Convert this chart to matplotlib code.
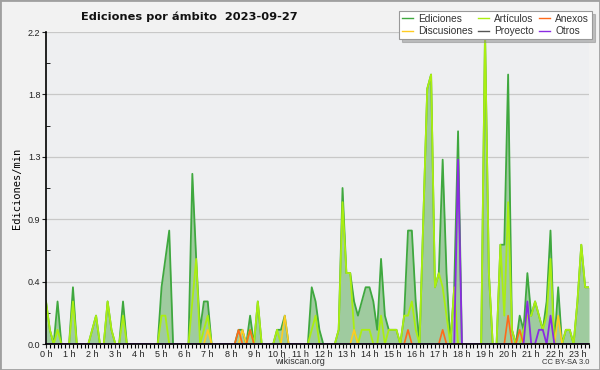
import numpy as np
import matplotlib
matplotlib.use("Agg")
import matplotlib.pyplot as plt
from matplotlib.lines import Line2D
from matplotlib.patches import Rectangle

# edits per minute, 10-minute bins starting at 0 h
ediciones = [
    0.3, 0.1, 0, 0.3, 0, 0, 0, 0.4, 0, 0, 0, 0,
    0.1, 0.2, 0, 0, 0.3, 0.1, 0, 0, 0.3, 0, 0, 0,
    0, 0, 0, 0, 0, 0, 0.4, 0.6, 0.8, 0, 0, 0,
    0, 0, 1.2, 0.6, 0.1, 0.3, 0.3, 0, 0, 0, 0, 0,
    0, 0, 0.1, 0.1, 0, 0.2, 0, 0.3, 0, 0, 0, 0,
    0.1, 0.1, 0.2, 0, 0, 0, 0, 0, 0, 0.4, 0.3, 0.1,
    0, 0, 0, 0, 0.1, 1.1, 0.5, 0.5, 0.3, 0.2, 0.3, 0.4,
    0.4, 0.3, 0.1, 0.6, 0.2, 0.1, 0.1, 0.1, 0, 0.2, 0.8, 0.8,
    0.3, 0, 0.9, 1.8, 1.9, 0.4, 0.5, 1.3, 0.5, 0, 0.4, 1.5,
    0, 0, 0, 0, 0, 0, 2.2, 0.5, 0, 0, 0.7, 0.7,
    1.9, 0.1, 0, 0.2, 0.1, 0.5, 0.2, 0.3, 0.2, 0.1, 0.3, 0.8,
    0, 0.4, 0, 0.1, 0.1, 0, 0.3, 0.7, 0.4, 0.4,
]
articulos = [
    0.3, 0.1, 0, 0.1, 0, 0, 0, 0.3, 0, 0, 0, 0,
    0.1, 0.2, 0, 0, 0.3, 0.1, 0, 0, 0.2, 0, 0, 0,
    0, 0, 0, 0, 0, 0, 0.2, 0.2, 0, 0, 0, 0,
    0, 0, 0.3, 0.6, 0, 0.1, 0.2, 0, 0, 0, 0, 0,
    0, 0, 0, 0, 0, 0.1, 0, 0.3, 0, 0, 0, 0,
    0.1, 0, 0, 0, 0, 0, 0, 0, 0, 0.1, 0.2, 0,
    0, 0, 0, 0, 0.1, 1.0, 0.5, 0.5, 0.1, 0, 0.1, 0.1,
    0.1, 0, 0, 0.2, 0, 0.1, 0.1, 0.1, 0, 0.2, 0.2, 0.3,
    0.1, 0, 0.9, 1.8, 1.9, 0.4, 0.5, 0.4, 0.2, 0, 0.4, 0,
    0, 0, 0, 0, 0, 0, 2.2, 0.5, 0, 0, 0.7, 0.2,
    1.0, 0.1, 0, 0, 0.1, 0.2, 0.2, 0.3, 0.2, 0.1, 0.2, 0.6,
    0, 0, 0, 0.1, 0.1, 0, 0.3, 0.7, 0.4, 0.4,
]
discusiones = (
    [0] * 36
    + [0, 0, 0, 0, 0, 0, 0.1, 0, 0, 0, 0, 0]
    + [0, 0, 0, 0.1, 0, 0, 0, 0, 0, 0, 0, 0]
    + [0, 0, 0.2, 0, 0, 0, 0, 0, 0, 0, 0, 0]
    + [0, 0, 0, 0, 0, 0, 0, 0, 0.1, 0, 0, 0]
    + [0] * 48
    + [0, 0.2, 0, 0, 0, 0, 0, 0, 0, 0]
)
anexos = (
    [0] * 48
    + [0, 0, 0.1, 0, 0, 0.1, 0, 0, 0, 0, 0, 0]
    + [0] * 24
    + [0, 0, 0, 0, 0, 0, 0, 0, 0, 0, 0.1, 0]
    + [0, 0, 0, 0, 0, 0, 0, 0.1, 0, 0, 0, 0]
    + [0] * 12
    + [0.2, 0, 0, 0.1, 0, 0, 0, 0, 0, 0, 0, 0]
    + [0] * 10
)
proyecto = [0] * 142
otros = (
    [0] * 96
    + [0, 0, 0, 0, 0, 0, 0, 0, 0, 0, 0, 1.3]
    + [0] * 12
    + [0, 0, 0, 0, 0, 0.3, 0, 0, 0.1, 0.1, 0, 0.2]
    + [0] * 10
)

hour_labels = [f"{h} h" for h in range(24)]
y_ticks = [0, 0.44, 0.88, 1.32, 1.76, 2.2]
y_labels = ["0.0", "0.4", "0.9", "1.3", "1.8", "2.2"]

t = np.arange(len(ediciones)) / 6.0

C_FILL = "#9fcb9f"
C_ED = "#3fa83f"
C_ART = "#aaee11"
C_DISC = "#ffcc22"
C_ANX = "#ff6a1a"
C_PROY = "#555555"
C_OTR = "#8a2be2"

fig = plt.figure(figsize=(6.0, 3.7), dpi=100, facecolor="#f2f2f2")
ax = fig.add_axes([46 / 600, 1 - 344 / 370, 543 / 600, 312 / 370])
ax.set_facecolor("#eeeff1")

ax.fill_between(t, 0, ediciones, color=C_FILL, linewidth=0, zorder=2)
ax.plot(t, ediciones, color=C_ED, lw=1.3, zorder=3)
ax.plot(t, proyecto, color=C_PROY, lw=1.2, zorder=3)
ax.plot(t, articulos, color=C_ART, lw=1.3, zorder=4)
ax.plot(t, discusiones, color=C_DISC, lw=1.2, zorder=5)
ax.plot(t, anexos, color=C_ANX, lw=1.2, zorder=6)
ax.plot(t, otros, color=C_OTR, lw=1.3, zorder=7)

ax.set_xlim(0, t[-1])
ax.set_ylim(0, 2.2)
ax.set_xticks(range(24))
ax.set_xticklabels(hour_labels, family="Liberation Sans", fontsize=6.5)
ax.set_xticks(np.arange(0, 23.6, 1 / 6), minor=True)
ax.set_yticks(y_ticks)
ax.set_yticklabels(y_labels, family="Liberation Sans", fontsize=6.5)
ax.set_yticks(np.arange(0.22, 2.2, 0.44), minor=True)
ax.tick_params(axis="both", colors="#222222", length=3, width=0.8, pad=1)
ax.tick_params(axis="x", which="minor", length=3, width=0.8)
ax.tick_params(axis="y", which="minor", length=3, direction="in")
ax.grid(axis="y", color="#c8c8c8", lw=0.9, zorder=1)
for s in ["top", "right"]:
    ax.spines[s].set_visible(False)
for s in ["left", "bottom"]:
    ax.spines[s].set_color("black")
    ax.spines[s].set_linewidth(1.2)
    ax.spines[s].set_zorder(8)

ax.set_ylabel("Ediciones/min", family="DejaVu Sans Mono", fontsize=7.5, labelpad=4)

fig.text(0.315, 1 - 17 / 370, "Ediciones por ámbito  2023-09-27", fontsize=8.2,
         fontweight="bold", ha="center", va="center", color="#111111")
fig.text(0.5, 1 - 362 / 370, "wikiscan.org", family="Liberation Sans", fontsize=6.5,
         ha="center", va="center", color="#333333")
fig.text(0.982, 1 - 362 / 370, "CC BY-SA 3.0", family="Liberation Sans", fontsize=5.5,
         ha="right", va="center", color="#333333")

handles = [
    Line2D([], [], color=C_ED, lw=1),
    Line2D([], [], color=C_DISC, lw=1),
    Line2D([], [], color=C_ART, lw=1),
    Line2D([], [], color=C_PROY, lw=1),
    Line2D([], [], color=C_ANX, lw=1),
    Line2D([], [], color=C_OTR, lw=1),
]
names = ["Ediciones", "Discusiones", "Artículos", "Proyecto", "Anexos", "Otros"]
leg = fig.legend(handles, names, ncol=3, loc="upper right",
                 bbox_to_anchor=(592 / 600, 1 - 11 / 370),
                 prop={"family": "Liberation Sans", "size": 7.3},
                 frameon=True, fancybox=False, shadow={"color": "#8a8a8a"},
                 handlelength=1.1, handletextpad=0.5, columnspacing=0.5,
                 borderpad=0.3, labelspacing=0.2, borderaxespad=0)
leg.get_frame().set_edgecolor("#999999")
leg.get_frame().set_linewidth(0.8)
leg.set_zorder(10)
for txt in leg.get_texts():
    txt.set_color("#333333")

fig.patches.append(Rectangle((0, 0), 1, 1, transform=fig.transFigure, fill=False,
                             edgecolor="#a0a0a0", lw=2))

fig.savefig("out.png", dpi=100, facecolor=fig.get_facecolor())
